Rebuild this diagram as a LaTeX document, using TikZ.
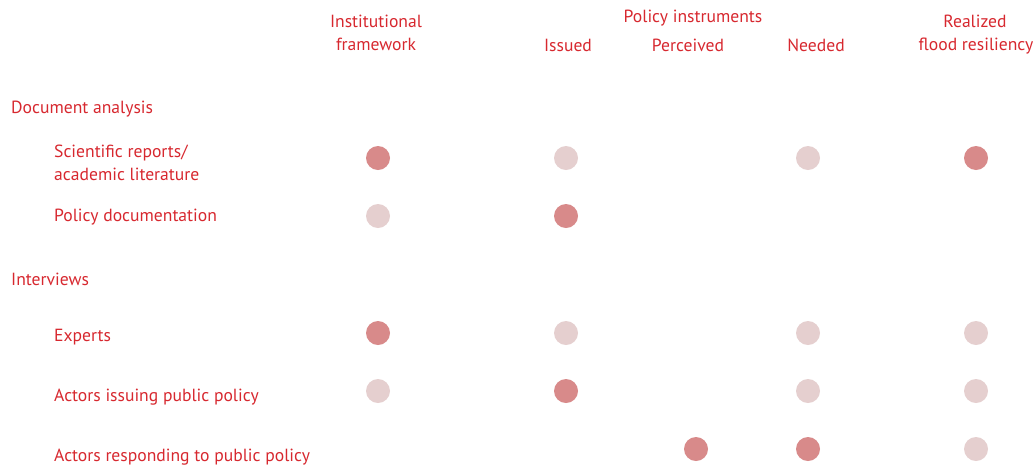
\documentclass[tikz,border=0pt]{standalone}
\usepackage{fontspec}
\setmainfont{PT Sans}
\definecolor{txtred}{HTML}{D7282F}
\definecolor{dotdark}{HTML}{D88A8A}
\definecolor{dotlight}{HTML}{E5CFCF}
\begin{document}
\begin{tikzpicture}[x=1pt,y=-1pt,
  lbl/.style={text=txtred,font=\fontsize{17.6}{22}\selectfont,inner sep=0pt,anchor=base},
  rowlbl/.style={lbl,anchor=base west,align=left},
  hi/.style={circle,fill=dotdark,minimum size=24pt,inner sep=0pt},
  lo/.style={circle,fill=dotlight,minimum size=24pt,inner sep=0pt}]
\useasboundingbox (0,0) rectangle (1036,467);
% column headers
\node[lbl] (h1a) at (376,27) {Institutional};
\node[lbl] (h1b) at (376,50) {framework};
\node[lbl] (hp) at (693,22) {Policy instruments};
\node[lbl] (h2) at (568,51) {Issued};
\node[lbl] (h3) at (688,51) {Perceived};
\node[lbl] (h4) at (816,51) {Needed};
\node[lbl] (h5a) at (975,27) {Realized};
\node[lbl] (h5b) at (976,50) {flood resiliency};
% row labels
\node[rowlbl] (r0) at (11,113) {Document analysis};
\node[rowlbl] (r1a) at (54,157) {Scientific reports/};
\node[rowlbl] (r1b) at (54,180) {academic literature};
\node[rowlbl] (r2) at (54,221) {Policy documentation};
\node[rowlbl] (r00) at (11,285) {Interviews};
\node[rowlbl] (r3) at (54,341) {Experts};
\node[rowlbl] (r4) at (54,401) {Actors issuing public policy};
\node[rowlbl] (r5) at (54,461) {Actors responding to public policy};
% dots
\node[hi] (d11) at (378,158) {};
\node[lo] (d12) at (566,158) {};
\node[lo] (d14) at (808,158) {};
\node[hi] (d15) at (976,158) {};
\node[lo] (d21) at (378,216) {};
\node[hi] (d22) at (566,216) {};
\node[hi] (d31) at (378,333) {};
\node[lo] (d32) at (566,333) {};
\node[lo] (d34) at (808,333) {};
\node[lo] (d35) at (976,333) {};
\node[lo] (d41) at (378,391) {};
\node[hi] (d42) at (566,391) {};
\node[lo] (d44) at (808,391) {};
\node[lo] (d45) at (976,391) {};
\node[hi] (d53) at (696,449) {};
\node[hi] (d54) at (808,449) {};
\node[lo] (d55) at (976,449) {};
\end{tikzpicture}
\end{document}
